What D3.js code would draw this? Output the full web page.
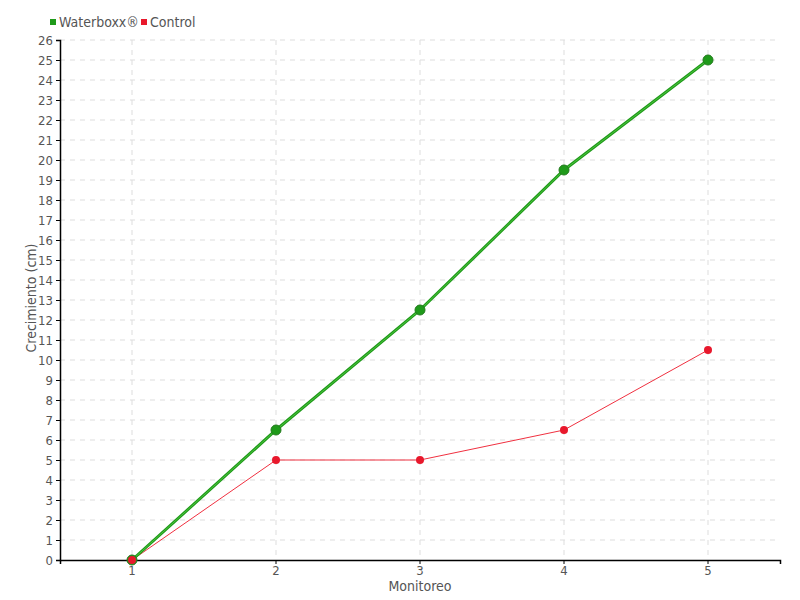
<!DOCTYPE html>
<html lang="es">
<head>
<meta charset="UTF-8" />
<title>Crecimiento</title>
<script src="https://d3js.org/d3.v7.min.js"></script>
<style>
  body { margin: 0; background: #fff; }
  text { font-family: "DejaVu Sans Condensed", sans-serif; fill: #555; }
</style>
</head>
<body>
<svg width="800" height="600"></svg>
<script>
const categories = ["1", "2", "3", "4", "5"];
const waterboxx = [0, 6.5, 12.5, 19.5, 25];
const control = [0, 5, 5, 6.5, 10.5];
const yTicks = d3.range(0, 27);

const svg = d3.select("svg");
const margin = { top: 40, right: 20, bottom: 40, left: 60 };
const width = 800, height = 600;
const font = "\"DejaVu Sans Condensed\", sans-serif";

const x = d3.scaleBand().domain(categories).range([margin.left, width - margin.right]);
const y = d3.scaleLinear().domain([0, 26]).range([height - margin.bottom, margin.top]);
const cx = d => x(d) + x.bandwidth() / 2;

// grid
const grid = svg.append("g").attr("stroke", "#ddd").attr("stroke-dasharray", "5,5");
grid.selectAll("line.h").data(yTicks.slice(1)).enter().append("line")
  .attr("x1", margin.left).attr("x2", width - margin.right)
  .attr("y1", d => y(d)).attr("y2", d => y(d));
grid.selectAll("line.v").data(categories).enter().append("line")
  .attr("x1", cx).attr("x2", cx)
  .attr("y1", margin.top).attr("y2", height - margin.bottom);

// axes
const yAxis = svg.append("g")
  .attr("transform", `translate(${margin.left},0)`)
  .call(d3.axisLeft(y).tickValues(yTicks).tickSize(4).tickPadding(3));
const xAxis = svg.append("g")
  .attr("transform", `translate(0,${height - margin.bottom})`)
  .call(d3.axisBottom(x).tickSize(4).tickPadding(2));
[yAxis, xAxis].forEach(a => {
  a.select(".domain").attr("stroke", "#000").attr("stroke-width", 1.5);
  a.selectAll(".tick line").attr("stroke", "#000");
  a.selectAll(".tick text").attr("font-size", 13).attr("fill", "#555").attr("font-family", font);
});

// axis titles
svg.append("text").attr("x", 420).attr("y", 591).attr("text-anchor", "middle")
  .attr("font-size", 14).text("Monitoreo");
svg.append("text").attr("transform", "translate(36,298) rotate(-90)")
  .attr("text-anchor", "middle").attr("font-size", 14).text("Crecimiento (cm)");

// lines
const line = d3.line().x((d, i) => cx(categories[i])).y(d => y(d));
svg.append("path").datum(control).attr("fill", "none")
  .attr("stroke", "#f03040").attr("stroke-width", 1).attr("d", line);
svg.append("path").datum(waterboxx).attr("fill", "none")
  .attr("stroke", "#1f9a1a").attr("stroke-width", 3).attr("d", line);
svg.append("path").datum(waterboxx).attr("fill", "none")
  .attr("stroke", "#4cc43c").attr("stroke-width", 1).attr("d", line);

// markers
svg.selectAll("circle.w").data(waterboxx).enter().append("circle")
  .attr("cx", (d, i) => cx(categories[i])).attr("cy", d => y(d)).attr("r", 5)
  .attr("fill", "#1f9a1a").attr("stroke", "#237a1e").attr("stroke-width", 1);
svg.selectAll("circle.c").data(control).enter().append("circle")
  .attr("cx", (d, i) => cx(categories[i])).attr("cy", d => y(d)).attr("r", 4)
  .attr("fill", "#e8182c");

// legend
const legend = [{ name: "Waterboxx®", color: "#1f9a1a", x: 49 }, { name: "Control", color: "#e8182c", x: 140 }];
const lg = svg.append("g").selectAll("g").data(legend).enter().append("g")
  .attr("transform", d => `translate(${d.x},0)`);
lg.append("rect").attr("x", 1).attr("y", 19).attr("width", 6).attr("height", 6).attr("fill", d => d.color);
lg.append("text").attr("x", 10).attr("y", 27).attr("font-size", 14).text(d => d.name);
</script>
</body>
</html>
